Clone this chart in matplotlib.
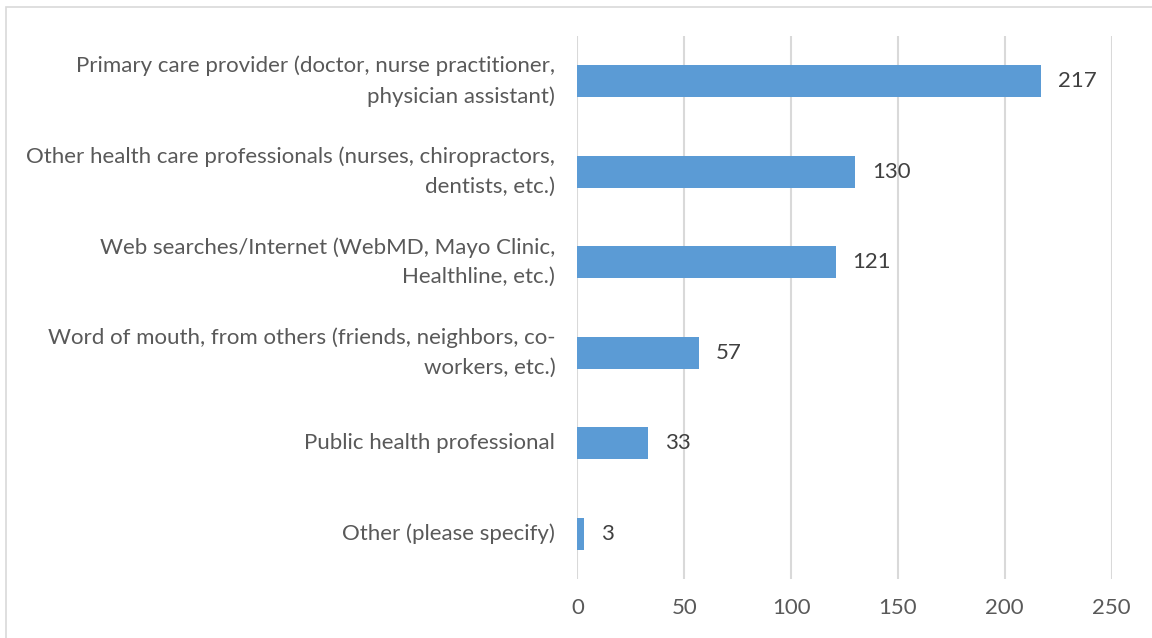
import matplotlib
matplotlib.use("Agg")
import matplotlib.pyplot as plt
from matplotlib.patches import Rectangle

# survey responses: where people get their health information
categories = [
    "Primary care provider (doctor, nurse practitioner,\nphysician assistant)",
    "Other health care professionals (nurses, chiropractors,\ndentists, etc.)",
    "Web searches/Internet (WebMD, Mayo Clinic,\nHealthline, etc.)",
    "Word of mouth, from others (friends, neighbors, co-\nworkers, etc.)",
    "Public health professional",
    "Other (please specify)",
]
counts = [217, 130, 121, 57, 33, 3]
xticks = [0, 50, 100, 150, 200, 250]

plt.rcParams['font.family'] = ['Lato', 'DejaVu Sans']

fig = plt.figure(figsize=(11.52, 6.38), dpi=100)
ax = fig.add_axes([0.5013, 0.0925, 0.4636, 0.8511])

ypos = list(range(len(categories)))
ax.barh(ypos, counts, height=0.35, color="#5B9BD5", zorder=3)

for y, v in zip(ypos, counts):
    ax.annotate(str(v), (v, y), xytext=(12, 0), textcoords="offset points",
                ha="left", va="center", fontsize=16, color="#404040")

ax.set_xlim(0, 250)
ax.set_ylim(len(categories) - 0.5, -0.5)
ax.set_xticks(xticks)
ax.set_xticklabels([str(t) for t in xticks], fontsize=16, color="#595959")
ax.set_yticks(ypos)
ax.set_yticklabels(categories, fontsize=16, color="#595959",
                   linespacing=1.6, ha="right", va="center")
ax.tick_params(axis="both", length=0)
ax.tick_params(axis="y", pad=16)
ax.tick_params(axis="x", pad=14)

ax.grid(axis="x", color="#D9D9D9", linewidth=1.5, zorder=0)
for s in ax.spines.values():
    s.set_visible(False)

# thin frame around the chart area (clipped on the right and bottom)
fig.patches.append(Rectangle((6 / 1152, -0.05), 1.2, 1 - 7 / 638 + 0.05,
                             transform=fig.transFigure, fill=False,
                             edgecolor="#D9D9D9", linewidth=1.2))

fig.savefig("out.png", dpi=100)
